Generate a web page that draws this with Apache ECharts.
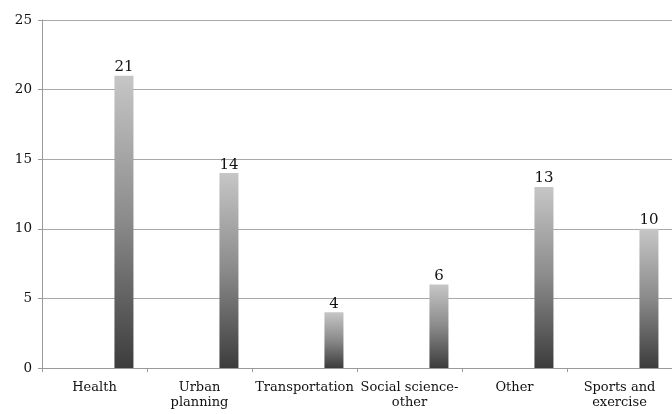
<!DOCTYPE html>
<html>
<head>
<meta charset="utf-8">
<script src="https://cdn.jsdelivr.net/npm/echarts@6/dist/echarts.min.js"></script>
<style>
  html, body { margin: 0; padding: 0; background: #fff; }
  #chart { width: 672px; height: 414px; }
</style>
</head>
<body>
<div id="chart"></div>
<script>
// Studies by field
const categories = ['Health', 'Urban\nplanning', 'Transportation', 'Social science-\nother', 'Other', 'Sports and\nexercise'];
const counts = [21, 14, 4, 6, 13, 10];
const spacer = [null, null, null, null, null, null];

const chart = echarts.init(document.getElementById('chart'));
const serif = 'DejaVu Serif';

chart.setOption({
  animation: false,
  grid: { left: 42, top: 20, right: -2, bottom: 46, containLabel: false },
  xAxis: {
    type: 'category',
    data: categories,
    axisLine: { lineStyle: { color: '#9a9a9a', width: 1 } },
    axisTick: { show: true, length: 4, lineStyle: { color: '#9a9a9a' } },
    axisLabel: { color: '#111', fontFamily: serif, fontSize: 13, lineHeight: 15, margin: 12, interval: 0 }
  },
  yAxis: {
    type: 'value',
    min: 0, max: 25, interval: 5,
    axisLine: { show: true, lineStyle: { color: '#9a9a9a', width: 1 } },
    axisTick: { show: true, length: 4, lineStyle: { color: '#9a9a9a' } },
    axisLabel: { color: '#111', fontFamily: serif, fontSize: 13.5, margin: 10 },
    splitLine: { lineStyle: { color: '#a8a8a8', width: 1 } }
  },
  series: [
    {
      type: 'bar',
      data: spacer,
      barWidth: 19,
      barGap: '210%',
      silent: true
    },
    {
      type: 'bar',
      data: counts,
      barWidth: 19,
      itemStyle: {
        color: new echarts.graphic.LinearGradient(0, 0, 0, 1, [
          { offset: 0, color: '#c6c6c6' },
          { offset: 0.5, color: '#8a8a8a' },
          { offset: 1, color: '#3c3c3c' }
        ])
      },
      label: {
        show: true,
        position: 'top',
        distance: 1,
        color: '#111',
        fontFamily: serif,
        fontSize: 15
      }
    }
  ]
});
</script>
</body>
</html>
